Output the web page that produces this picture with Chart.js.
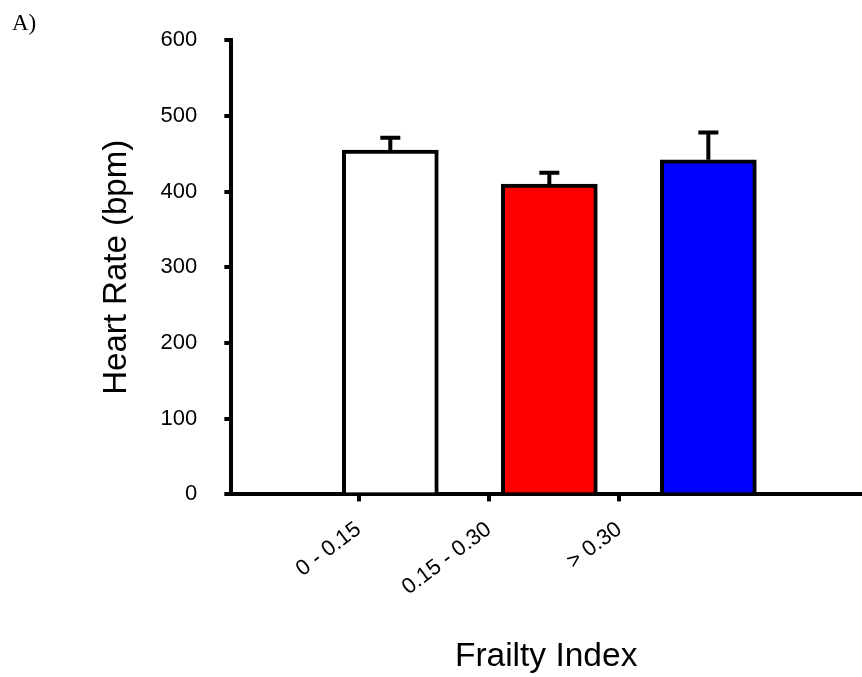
<!DOCTYPE html>
<html>
<head>
<meta charset="utf-8">
<script src="https://cdn.jsdelivr.net/npm/chart.js@4.4.1/dist/chart.umd.min.js"></script>
<style>
  body { margin: 0; background: #fff; }
  #wrap { position: relative; width: 862px; height: 677px; }
  #panel {
    position: absolute; left: 12px; top: 11px;
    font-family: "Liberation Serif", "Times New Roman", serif;
    font-size: 23px; line-height: 23px; color: #000;
  }
</style>
</head>
<body>
<div id="wrap">
  <canvas id="chart"></canvas>
  <div id="panel">A)</div>
</div>
<script>
// Heart rate by frailty index group (mean + SEM)
const groups = ['0 - 0.15', '0.15 - 0.30', '> 0.30'];
const groupPos = [1, 2, 3];            // bar positions on the x scale
const labelPos = [0.8, 1.62, 2.44];    // where the category ticks sit
const heartRate = [455, 410, 442];
const heartRateSem = [16, 15, 36];
const barColors = ['#ffffff', '#ff0000', '#0000ff'];
const yTicks = [0, 100, 200, 300, 400, 500, 600];

const fontFamily = '"Liberation Sans", Arial, sans-serif';

// Upper error bars with caps, like the original figure
const errorBars = {
  id: 'errorBars',
  afterDatasetsDraw(chart) {
    const { ctx } = chart;
    const y = chart.scales.y;
    const meta = chart.getDatasetMeta(0);
    ctx.save();
    ctx.strokeStyle = '#000';
    ctx.lineWidth = 4;
    meta.data.forEach((bar, i) => {
      const top = y.getPixelForValue(heartRate[i] + heartRateSem[i]);
      ctx.beginPath();
      ctx.moveTo(bar.x, bar.y);
      ctx.lineTo(bar.x, top);
      ctx.moveTo(bar.x - 10, top);
      ctx.lineTo(bar.x + 10, top);
      ctx.stroke();
    });
    ctx.restore();
  }
};

const ctx = document.getElementById('chart').getContext('2d');
new Chart(ctx, {
  type: 'bar',
  data: {
    datasets: [{
      data: groupPos.map((x, i) => ({ x, y: heartRate[i] })),
      backgroundColor: barColors,
      borderColor: '#000',
      borderWidth: 4,
      barThickness: 96
    }]
  },
  options: {
    responsive: true,
    maintainAspectRatio: false,
    animation: false,
    layout: { padding: { left: 90, top: 38, right: 1, bottom: 0 } },
    plugins: {
      legend: { display: false },
      tooltip: { enabled: false }
    },
    scales: {
      x: {
        type: 'linear',
        min: 0,
        max: 3.96,
        offset: false,
        z: 1,
        afterBuildTicks: (scale) => {
          scale.ticks = labelPos.map(v => ({ value: v }));
        },
        grid: {
          offset: false,
          drawOnChartArea: false,
          drawTicks: true,
          tickLength: 7,
          lineWidth: 4,
          color: '#000'
        },
        border: { display: true, width: 4, color: '#000' },
        ticks: {
          autoSkip: false,
          maxRotation: 37,
          minRotation: 37,
          padding: 15,
          color: '#000',
          font: { family: fontFamily, size: 22 },
          callback: (value, index) => groups[index]
        },
        title: {
          display: true,
          text: 'Frailty Index',
          color: '#000',
          font: { family: fontFamily, size: 33.5 },
          padding: { top: 21, bottom: 0 }
        }
      },
      y: {
        min: 0,
        max: 600,
        afterBuildTicks: (scale) => {
          scale.ticks = yTicks.map(v => ({ value: v }));
        },
        grid: {
          drawOnChartArea: false,
          drawTicks: true,
          tickLength: 7,
          lineWidth: 4,
          color: '#000'
        },
        border: { display: true, width: 4, color: '#000' },
        ticks: {
          padding: 27,
          color: '#000',
          font: { family: fontFamily, size: 22 }
        },
        title: {
          display: true,
          text: 'Heart Rate (bpm)',
          color: '#000',
          font: { family: fontFamily, size: 33 },
          padding: { top: 7, bottom: -3 }
        }
      }
    }
  },
  plugins: [errorBars]
});
</script>
</body>
</html>
